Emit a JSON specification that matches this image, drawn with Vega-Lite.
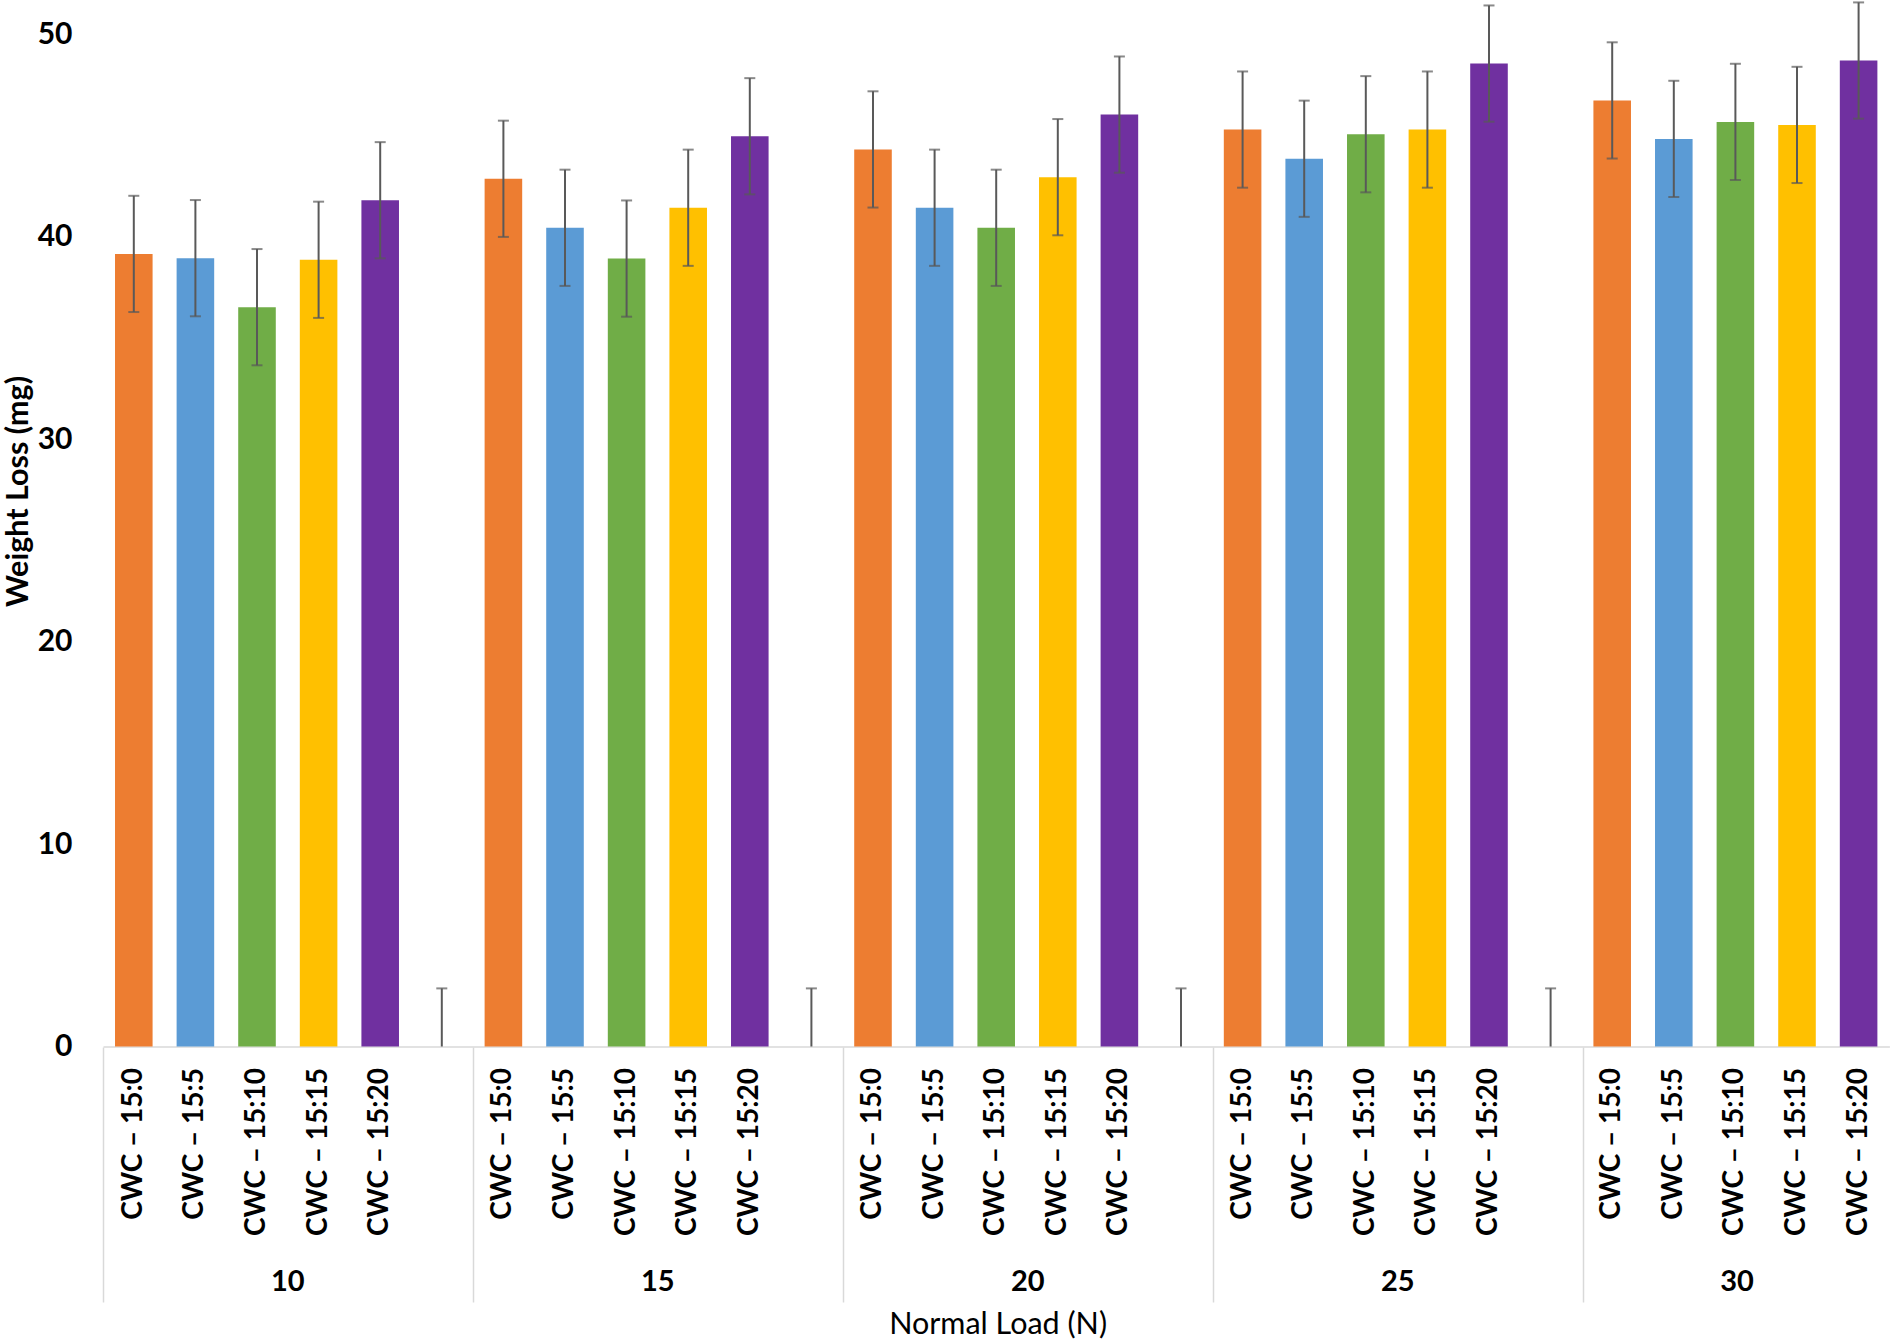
{
  "$schema": "https://vega.github.io/schema/vega-lite/v6.json",
  "background": "white",
  "padding": {"left": 3, "top": 1, "right": 0, "bottom": 0},
  "title": {
    "text": "Normal Load (N)",
    "orient": "bottom",
    "anchor": "middle",
    "fontSize": 30.5,
    "fontWeight": "normal",
    "color": "black",
    "offset": 8,
    "dx": 51
  },
  "datasets": {
    "bars": [
      {"key": "10|CWC – 15:0", "load": "10", "sample": "CWC – 15:0", "v": 39.14, "lo": 36.27, "hi": 42.01},
      {"key": "10|CWC – 15:5", "load": "10", "sample": "CWC – 15:5", "v": 38.93, "lo": 36.06, "hi": 41.80},
      {"key": "10|CWC – 15:10", "load": "10", "sample": "CWC – 15:10", "v": 36.51, "lo": 33.64, "hi": 39.38},
      {"key": "10|CWC – 15:15", "load": "10", "sample": "CWC – 15:15", "v": 38.85, "lo": 35.98, "hi": 41.72},
      {"key": "10|CWC – 15:20", "load": "10", "sample": "CWC – 15:20", "v": 41.79, "lo": 38.92, "hi": 44.66},
      {"key": "10|", "load": "10", "sample": "", "v": 0, "lo": 0, "hi": 2.87},
      {"key": "15|CWC – 15:0", "load": "15", "sample": "CWC – 15:0", "v": 42.85, "lo": 39.98, "hi": 45.72},
      {"key": "15|CWC – 15:5", "load": "15", "sample": "CWC – 15:5", "v": 40.43, "lo": 37.56, "hi": 43.30},
      {"key": "15|CWC – 15:10", "load": "15", "sample": "CWC – 15:10", "v": 38.91, "lo": 36.04, "hi": 41.78},
      {"key": "15|CWC – 15:15", "load": "15", "sample": "CWC – 15:15", "v": 41.42, "lo": 38.55, "hi": 44.29},
      {"key": "15|CWC – 15:20", "load": "15", "sample": "CWC – 15:20", "v": 44.95, "lo": 42.08, "hi": 47.82},
      {"key": "15|", "load": "15", "sample": "", "v": 0, "lo": 0, "hi": 2.87},
      {"key": "20|CWC – 15:0", "load": "20", "sample": "CWC – 15:0", "v": 44.30, "lo": 41.43, "hi": 47.17},
      {"key": "20|CWC – 15:5", "load": "20", "sample": "CWC – 15:5", "v": 41.42, "lo": 38.55, "hi": 44.29},
      {"key": "20|CWC – 15:10", "load": "20", "sample": "CWC – 15:10", "v": 40.43, "lo": 37.56, "hi": 43.30},
      {"key": "20|CWC – 15:15", "load": "20", "sample": "CWC – 15:15", "v": 42.93, "lo": 40.06, "hi": 45.80},
      {"key": "20|CWC – 15:20", "load": "20", "sample": "CWC – 15:20", "v": 46.02, "lo": 43.15, "hi": 48.89},
      {"key": "20|", "load": "20", "sample": "", "v": 0, "lo": 0, "hi": 2.87},
      {"key": "25|CWC – 15:0", "load": "25", "sample": "CWC – 15:0", "v": 45.28, "lo": 42.41, "hi": 48.15},
      {"key": "25|CWC – 15:5", "load": "25", "sample": "CWC – 15:5", "v": 43.84, "lo": 40.97, "hi": 46.71},
      {"key": "25|CWC – 15:10", "load": "25", "sample": "CWC – 15:10", "v": 45.05, "lo": 42.18, "hi": 47.92},
      {"key": "25|CWC – 15:15", "load": "25", "sample": "CWC – 15:15", "v": 45.28, "lo": 42.41, "hi": 48.15},
      {"key": "25|CWC – 15:20", "load": "25", "sample": "CWC – 15:20", "v": 48.54, "lo": 45.67, "hi": 51.41},
      {"key": "25|", "load": "25", "sample": "", "v": 0, "lo": 0, "hi": 2.87},
      {"key": "30|CWC – 15:0", "load": "30", "sample": "CWC – 15:0", "v": 46.72, "lo": 43.85, "hi": 49.59},
      {"key": "30|CWC – 15:5", "load": "30", "sample": "CWC – 15:5", "v": 44.82, "lo": 41.95, "hi": 47.69},
      {"key": "30|CWC – 15:10", "load": "30", "sample": "CWC – 15:10", "v": 45.66, "lo": 42.79, "hi": 48.53},
      {"key": "30|CWC – 15:15", "load": "30", "sample": "CWC – 15:15", "v": 45.51, "lo": 42.64, "hi": 48.38},
      {"key": "30|CWC – 15:20", "load": "30", "sample": "CWC – 15:20", "v": 48.69, "lo": 45.82, "hi": 51.56}
    ],
    "groups": [
      {"load": "10"}, {"load": "15"}, {"load": "20"}, {"load": "25"}, {"load": "30"}
    ]
  },
  "spacing": 0,
  "bounds": "flush",
  "vconcat": [
    {
      "width": 1786.4,
      "height": 1012.5,
      "data": {"name": "bars"},
      "encoding": {
        "x": {
          "field": "key",
          "type": "nominal",
          "sort": null,
          "scale": {"paddingInner": 0.39, "paddingOuter": 0.195},
          "axis": {
            "title": null,
            "labelExpr": "split(datum.value, '|')[1]",
            "labelAngle": -90,
            "labelFontSize": 28,
            "labelFontWeight": "bold",
            "labelPadding": 21,
            "labelOverlap": false,
            "ticks": false,
            "domainColor": "#d9d9d9",
            "domainWidth": 1.5
          }
        }
      },
      "layer": [
        {
          "mark": {"type": "bar"},
          "encoding": {
            "y": {
              "field": "v",
              "type": "quantitative",
              "scale": {"domain": [0, 50], "nice": false},
              "axis": {
                "values": [0, 10, 20, 30, 40, 50],
                "title": "Weight Loss (mg)",
                "grid": false,
                "ticks": false,
                "domain": false,
                "labelPadding": 31,
                "labelFontSize": 30,
                "labelFontWeight": "bold",
                "titleFontSize": 30.5,
                "titleFontWeight": "bold",
                "titlePadding": 4,
                "titleY": 457
              }
            },
            "color": {
              "field": "sample",
              "type": "nominal",
              "scale": {
                "domain": ["CWC – 15:0", "CWC – 15:5", "CWC – 15:10", "CWC – 15:15", "CWC – 15:20"],
                "range": ["#ed7d31", "#5b9bd5", "#70ad47", "#ffc000", "#7030a0"]
              },
              "legend": null
            }
          }
        },
        {
          "mark": {"type": "rule", "color": "#595959", "strokeWidth": 2},
          "encoding": {
            "y": {"field": "lo", "type": "quantitative", "scale": {"domain": [0, 50], "nice": false}},
            "y2": {"field": "hi"}
          }
        },
        {
          "mark": {"type": "tick", "color": "#595959", "thickness": 2, "size": 11},
          "encoding": {
            "y": {"field": "hi", "type": "quantitative", "scale": {"domain": [0, 50], "nice": false}}
          }
        },
        {
          "transform": [{"filter": "datum.lo > 0"}],
          "mark": {"type": "tick", "color": "#595959", "thickness": 2, "size": 11},
          "encoding": {
            "y": {"field": "lo", "type": "quantitative", "scale": {"domain": [0, 50], "nice": false}}
          }
        }
      ]
    },
    {
      "spacing": 0,
      "bounds": "flush",
      "hconcat": [
        {
          "width": 369.6,
          "height": 255,
          "data": {"name": "groups"},
          "transform": [{"filter": "datum.load == '10'"}],
          "mark": {"type": "text", "fontSize": 29, "fontWeight": "bold", "color": "black", "dy": 107},
          "encoding": {
            "text": {"field": "load"},
            "x": {"field": "load", "type": "nominal", "axis": null},
            "y": {"field": "load", "type": "nominal", "axis": {"title": null, "labels": false, "ticks": false, "domainColor": "#d9d9d9", "domainWidth": 1.5}}
          }
        },
        {
          "width": 369.6,
          "height": 255,
          "data": {"name": "groups"},
          "transform": [{"filter": "datum.load == '15'"}],
          "mark": {"type": "text", "fontSize": 29, "fontWeight": "bold", "color": "black", "dy": 107},
          "encoding": {
            "text": {"field": "load"},
            "x": {"field": "load", "type": "nominal", "axis": null},
            "y": {"field": "load", "type": "nominal", "axis": {"title": null, "labels": false, "ticks": false, "domainColor": "#d9d9d9", "domainWidth": 1.5}}
          }
        },
        {
          "width": 369.6,
          "height": 255,
          "data": {"name": "groups"},
          "transform": [{"filter": "datum.load == '20'"}],
          "mark": {"type": "text", "fontSize": 29, "fontWeight": "bold", "color": "black", "dy": 107},
          "encoding": {
            "text": {"field": "load"},
            "x": {"field": "load", "type": "nominal", "axis": null},
            "y": {"field": "load", "type": "nominal", "axis": {"title": null, "labels": false, "ticks": false, "domainColor": "#d9d9d9", "domainWidth": 1.5}}
          }
        },
        {
          "width": 369.6,
          "height": 255,
          "data": {"name": "groups"},
          "transform": [{"filter": "datum.load == '25'"}],
          "mark": {"type": "text", "fontSize": 29, "fontWeight": "bold", "color": "black", "dy": 107},
          "encoding": {
            "text": {"field": "load"},
            "x": {"field": "load", "type": "nominal", "axis": null},
            "y": {"field": "load", "type": "nominal", "axis": {"title": null, "labels": false, "ticks": false, "domainColor": "#d9d9d9", "domainWidth": 1.5}}
          }
        },
        {
          "width": 308,
          "height": 255,
          "data": {"name": "groups"},
          "transform": [{"filter": "datum.load == '30'"}],
          "encoding": {
            "text": {"field": "load"},
            "x": {"field": "load", "type": "nominal", "axis": null}
          },
          "layer": [
            {
              "mark": {"type": "text", "fontSize": 29, "fontWeight": "bold", "color": "black", "dy": 107},
              "encoding": {
                "y": {"field": "load", "type": "nominal", "axis": {"title": null, "labels": false, "ticks": false, "domainColor": "#d9d9d9", "domainWidth": 1.5}}
              }
            },
            {
              "mark": {"type": "text", "fontSize": 29, "opacity": 0},
              "encoding": {
                "y": {"field": "load", "type": "nominal", "axis": {"orient": "right", "title": null, "labels": false, "ticks": false, "domainColor": "#d9d9d9", "domainWidth": 1.5}}
              }
            }
          ],
          "resolve": {"axis": {"y": "independent"}}
        }
      ]
    }
  ],
  "config": {
    "font": "Lato",
    "view": {"stroke": null},
    "axis": {"labelFont": "Lato", "titleFont": "Lato", "labelColor": "black", "titleColor": "black"},
    "title": {"font": "Lato"}
  }
}
